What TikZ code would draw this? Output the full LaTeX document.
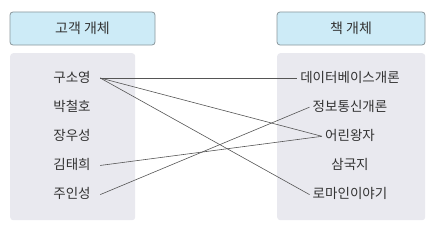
\documentclass[tikz,border=0pt]{standalone}
\usepackage{fontspec}
\setmainfont{Noto Sans CJK KR}
\usepackage{tikz}
\usetikzlibrary{positioning}
\definecolor{blueB}{HTML}{CDEBF7}
\definecolor{grayA}{HTML}{8A969C}
\definecolor{grayB}{HTML}{E9E9EF}
\definecolor{grayC}{HTML}{333333}
\definecolor{grayD}{HTML}{555555}
\tikzset{
  header/.style={
    draw=grayA, fill=blueB, rounded corners=3pt,
    line width=0.8pt, minimum width=145pt, minimum height=33pt,
    font=\fontsize{14}{16}\selectfont, text=grayC
  },
  panel/.style={
    fill=grayB, rounded corners=3pt, inner sep=0pt,
    minimum height=167pt, anchor=north west
  },
  item/.style={
    font=\fontsize{13.5}{16}\selectfont, text=grayC,
    text height=11pt, text depth=3pt, inner xsep=3pt, inner ysep=2pt
  },
  link/.style={line width=0.6pt, draw=grayD}
}

\begin{document}
\begin{tikzpicture}[node distance=10.75pt]
  \useasboundingbox (0,0) rectangle (435pt,-230pt);
  % headers and panels
  \node[header] (custhead) at (82.5pt,-28.5pt) {고객 개체};
  \node[header, minimum width=148pt] (bookhead) at (351pt,-28.5pt) {책 개체};
  \node[panel, minimum width=125pt] (custbox) at (10pt,-53pt) {};
  \node[panel, minimum width=148pt] (bookbox) at (277pt,-53pt) {};

  % customers
  \node[item, minimum width=56pt] (c1) at (72pt,-78pt) {구소영};
  \node[item, minimum width=56pt, below=of c1] (c2) {박철호};
  \node[item, minimum width=56pt, below=of c2] (c3) {장우성};
  \node[item, minimum width=56pt, below=of c3] (c4) {김태희};
  \node[item, minimum width=56pt, below=of c4] (c5) {주인성};

  % books
  \node[item] (b1) at (350pt,-78pt) {데이터베이스개론};
  \node[item, below=of b1] (b2) {정보통신개론};
  \node[item, below=of b2] (b3) {어린왕자};
  \node[item, below=of b3] (b4) {삼국지};
  \node[item, below=of b4] (b5) {로마인이야기};

  \draw[link] (c1.east) -- (b1.west);
  \draw[link] (c1.east) -- (b3.west);
  \draw[link] (c1.east) -- (b5.west);
  \draw[link] (c4.east) -- (b3.west);
  \draw[link] (c5.east) -- (b2.west);
\end{tikzpicture}
\end{document}
